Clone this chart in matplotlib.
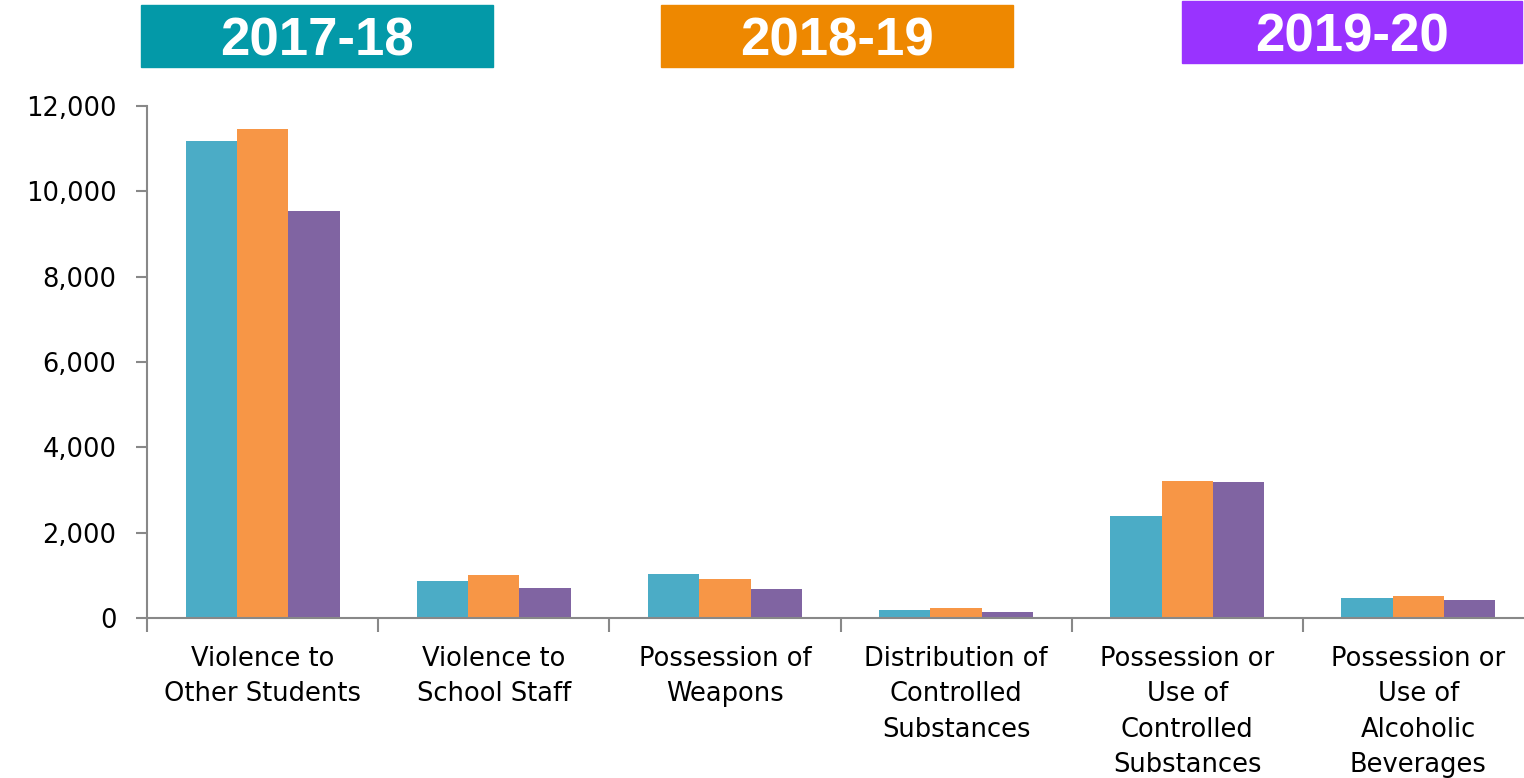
import matplotlib
matplotlib.use("Agg")
import matplotlib.pyplot as plt
from matplotlib.patches import Rectangle
import numpy as np

# incidents by category, one list per school year
categories = [
    "Violence to\nOther Students",
    "Violence to\nSchool Staff",
    "Possession of\nWeapons",
    "Distribution of\nControlled\nSubstances",
    "Possession or\nUse of\nControlled\nSubstances",
    "Possession or\nUse of\nAlcoholic\nBeverages",
]
years = ["2017-18", "2018-19", "2019-20"]
counts_1718 = [11180, 870, 1040, 190, 2400, 480]
counts_1819 = [11460, 1000, 925, 230, 3210, 510]
counts_1920 = [9540, 700, 670, 150, 3190, 420]

bar_colors = ["#4BACC6", "#F79646", "#8064A2"]
header_colors = ["#0399A8", "#EE8800", "#9933FF"]

W, H = 1524, 778
fig = plt.figure(figsize=(W / 100, H / 100), dpi=100)
# axis runs off the right edge of the figure
ax = fig.add_axes([147 / W, 1 - 618 / H, (1534 - 147) / W, (618 - 106) / H])

x = np.arange(len(categories))
bw = 0.222
for i, vals in enumerate([counts_1718, counts_1819, counts_1920]):
    ax.bar(x + (i - 1) * bw, vals, width=bw, color=bar_colors[i], label=years[i])

ax.set_xlim(-0.5, len(categories) - 0.5)
ax.set_ylim(0, 12000)
ax.set_yticks(range(0, 12001, 2000))
ax.set_yticklabels([f"{v:,}" for v in range(0, 12001, 2000)])

# group boundaries get the x tick marks, labels sit at group centres
ax.set_xticks(np.arange(-0.5, len(categories), 1.0))
ax.set_xticklabels([])
ax.set_xticks(x, minor=True)
ax.set_xticklabels(categories, minor=True, fontsize=18.5, family="DejaVu Sans",
                   linespacing=1.47, va="top")
ax.tick_params(axis="x", which="minor", length=0, pad=20)
ax.tick_params(axis="x", which="major", length=10, width=1.5, color="#888888", direction="out")
ax.tick_params(axis="y", length=8, width=1.5, color="#888888", direction="out",
               labelsize=18.5, pad=14)
for lbl in ax.get_yticklabels():
    lbl.set_family("DejaVu Sans")

for side in ["top", "right"]:
    ax.spines[side].set_visible(False)
for side in ["left", "bottom"]:
    ax.spines[side].set_color("#888888")
    ax.spines[side].set_linewidth(1.5)

# year headers above the chart
boxes = [(141, 5, 352, 62), (661, 5, 352, 62), (1182, 1, 340, 62)]
for (bx, by, bwid, bh), col, yr in zip(boxes, header_colors, years):
    fig.patches.append(Rectangle((bx / W, 1 - (by + bh) / H), bwid / W, bh / H,
                                 transform=fig.transFigure, color=col))
    fig.text((bx + bwid / 2) / W, 1 - (by + 51) / H, yr, color="white",
             fontsize=38, fontweight="bold", family="Liberation Sans",
             ha="center", va="baseline")

fig.savefig("out.png", dpi=100)
